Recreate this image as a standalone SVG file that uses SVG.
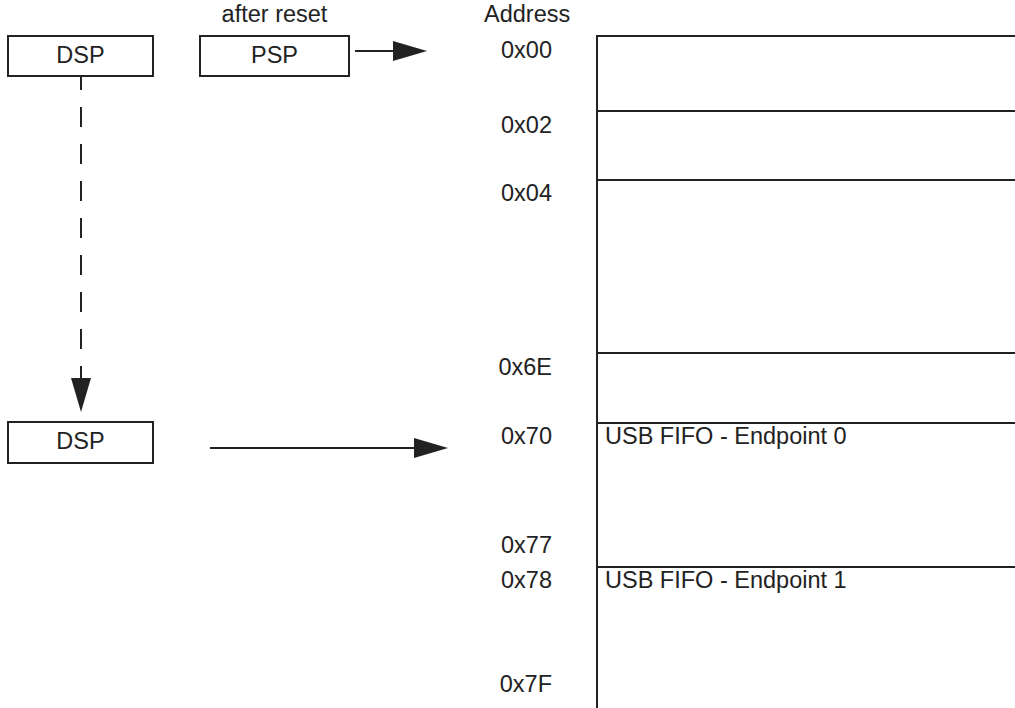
<svg xmlns="http://www.w3.org/2000/svg" width="1015" height="708" viewBox="0 0 1015 708">
<style>
text{font-family:"Liberation Sans",Arial,sans-serif;font-size:23.5px;fill:#222}
.box{fill:#fff;stroke:#222;stroke-width:2}
.ln{stroke:#222;stroke-width:2;fill:none}
.head{fill:#222}
.addr{text-anchor:end}
.mid{text-anchor:middle}
</style>
<rect width="1015" height="708" fill="#fff"/>
<g id="connectors">
  <line class="ln" x1="81" y1="76" x2="81" y2="380" stroke-dasharray="20 17" stroke-dashoffset="6"/>
  <polygon class="head" points="71,378 91,378 81,412"/>
  <line class="ln" x1="355" y1="51" x2="395" y2="51"/>
  <polygon class="head" points="393,41 393,61 427,51"/>
  <line class="ln" x1="210" y1="448" x2="416" y2="448"/>
  <polygon class="head" points="414,438 414,458 448,448"/>
</g>
<g id="dsp-top">
  <rect class="box" x="8" y="36" width="145" height="40"/>
  <text class="mid" x="80.5" y="63">DSP</text>
</g>
<g id="psp">
  <text class="mid" x="274.5" y="22">after reset</text>
  <rect class="box" x="200" y="36" width="149" height="40"/>
  <text class="mid" x="274.5" y="63">PSP</text>
</g>
<g id="dsp-bottom">
  <rect class="box" x="8" y="422" width="145" height="41"/>
  <text class="mid" x="80.5" y="449">DSP</text>
</g>
<g id="memory-map">
  <text x="484" y="22">Address</text>
  <line class="ln" x1="597" y1="35" x2="597" y2="708"/>
  <line class="ln" x1="596" y1="36" x2="1015" y2="36"/>
  <line class="ln" x1="596" y1="111" x2="1015" y2="111"/>
  <line class="ln" x1="596" y1="180" x2="1015" y2="180"/>
  <line class="ln" x1="596" y1="353" x2="1015" y2="353"/>
  <line class="ln" x1="596" y1="423" x2="1015" y2="423"/>
  <line class="ln" x1="596" y1="567" x2="1015" y2="567"/>
  <text class="addr" x="552" y="58">0x00</text>
  <text class="addr" x="552" y="133">0x02</text>
  <text class="addr" x="552" y="201">0x04</text>
  <text class="addr" x="552" y="375">0x6E</text>
  <text class="addr" x="552" y="444">0x70</text>
  <text class="addr" x="552" y="553">0x77</text>
  <text class="addr" x="552" y="588">0x78</text>
  <text class="addr" x="552" y="692">0x7F</text>
  <text x="605" y="444">USB FIFO - Endpoint 0</text>
  <text x="605" y="588">USB FIFO - Endpoint 1</text>
</g>
</svg>
